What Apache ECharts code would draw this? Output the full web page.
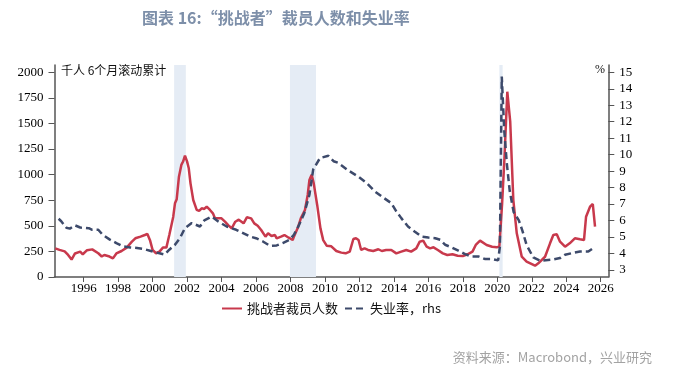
<!DOCTYPE html>
<html>
<head>
<meta charset="utf-8">
<script src="https://cdn.jsdelivr.net/npm/echarts@6/dist/echarts.min.js"></script>
<style>html,body{margin:0;padding:0;background:#fff}#c{width:676px;height:372px}</style>
</head>
<body>
<div id="c"></div>
<script>
// ---- data ----
const xTickYears = [1996,1998,2000,2002,2004,2006,2008,2010,2012,2014,2016,2018,2020,2022,2024,2026];
const leftTicks = [0,250,500,750,1000,1250,1500,1750,2000];
const rightTicks = [3,4,5,6,7,8,9,10,11,12,13,14,15];
const recessions = [[2001.25,2001.93],[2007.97,2009.48],[2020.12,2020.31]];

const layoffYears = [1994.35,1994.6,1994.9,1995.1,1995.3,1995.5,1995.8,1995.95,1996.2,1996.5,1996.85,1997.05,1997.2,1997.5,1997.7,1997.9,1998.2,1998.5,1998.8,1999.0,1999.3,1999.55,1999.7,1999.85,2000.0,2000.2,2000.4,2000.6,2000.8,2000.97,2001.2,2001.3,2001.4,2001.53,2001.67,2001.77,2001.88,2002.0,2002.1,2002.2,2002.36,2002.56,2002.7,2002.85,2003.0,2003.14,2003.33,2003.5,2003.62,2004.0,2004.2,2004.4,2004.59,2004.8,2005.0,2005.28,2005.47,2005.72,2005.9,2006.1,2006.3,2006.55,2006.7,2006.9,2007.1,2007.2,2007.45,2007.65,2007.9,2008.13,2008.2,2008.45,2008.6,2008.84,2009.0,2009.1,2009.23,2009.35,2009.55,2009.74,2009.9,2010.1,2010.37,2010.66,2010.95,2011.2,2011.44,2011.65,2011.8,2011.95,2012.1,2012.3,2012.5,2012.8,2013.1,2013.3,2013.55,2013.85,2014.14,2014.43,2014.72,2015.0,2015.3,2015.5,2015.7,2015.9,2016.1,2016.3,2016.55,2016.84,2017.1,2017.4,2017.7,2018.0,2018.27,2018.56,2018.75,2019.0,2019.1,2019.38,2019.7,2019.97,2020.12,2020.28,2020.41,2020.58,2020.75,2020.93,2021.13,2021.42,2021.7,2022.19,2022.38,2022.77,2023.06,2023.25,2023.45,2023.64,2023.93,2024.2,2024.5,2024.8,2025.03,2025.15,2025.38,2025.54,2025.67];
const layoffValues = [280,265,250,215,170,230,248,222,262,270,232,200,215,200,182,230,254,287,345,378,395,410,420,360,265,232,248,287,287,410,589,720,760,980,1095,1128,1185,1130,1062,915,752,655,645,671,665,688,655,622,573,573,541,505,476,540,560,524,583,573,524,501,459,394,427,400,410,378,394,410,384,361,394,491,573,655,801,948,998,915,704,475,360,306,300,254,238,231,248,371,378,361,264,280,264,254,271,254,264,264,231,248,264,248,280,345,355,296,280,290,264,231,215,222,208,205,222,248,313,355,345,313,296,290,300,720,1143,1810,1517,752,427,198,150,110,134,198,329,410,417,345,296,329,378,368,361,589,687,713,491];

const unempYears = [1994.55,1994.7,1995.0,1995.2,1995.5,1995.8,1996.3,1996.5,1996.85,1997.1,1997.5,1997.9,1998.3,1998.7,1999.1,1999.5,1999.85,2000.15,2000.4,2000.7,2000.97,2001.3,2001.59,2001.88,2002.27,2002.75,2003.0,2003.43,2003.81,2004.3,2004.85,2005.25,2005.65,2006.0,2006.4,2006.8,2007.2,2007.55,2007.95,2008.2,2008.5,2008.8,2009.1,2009.32,2009.71,2010.2,2010.5,2010.77,2011.35,2011.93,2012.42,2012.9,2013.3,2013.85,2014.14,2014.43,2014.82,2015.2,2015.6,2016.0,2016.4,2016.7,2016.97,2017.35,2017.74,2018.13,2018.5,2018.9,2019.3,2019.7,2020.05,2020.15,2020.26,2020.4,2020.55,2020.72,2020.95,2021.25,2021.45,2021.7,2022.09,2022.48,2023.16,2023.64,2023.93,2024.32,2024.8,2025.28,2025.57];
const unempValues = [6.1,5.95,5.55,5.5,5.7,5.57,5.53,5.43,5.43,5.13,4.85,4.62,4.42,4.36,4.32,4.26,4.16,4.06,4.0,3.92,4.22,4.52,4.93,5.53,5.84,5.63,6.0,6.24,5.94,5.63,5.43,5.23,5.02,4.92,4.72,4.46,4.48,4.62,4.82,5.13,5.73,6.44,7.56,9.1,9.79,9.93,9.6,9.5,9.04,8.67,8.27,7.76,7.45,7.05,6.55,6.14,5.63,5.33,5.02,4.96,4.92,4.82,4.52,4.36,4.16,3.95,3.81,3.81,3.65,3.65,3.57,4.4,14.75,11.5,9.5,7.8,6.5,6.0,5.4,4.5,3.75,3.55,3.61,3.71,3.91,4.01,4.11,4.11,4.32];

// ---- build ----
const layoffData = layoffYears.map((y,i)=>[y, layoffValues[i]]);
const unempData = unempYears.map((y,i)=>[y, unempValues[i]]);
const serif = '"Liberation Serif","Times New Roman",serif';
const cjk = '"Noto Sans CJK SC","Noto Sans",sans-serif';
const axisColor = '#555';

const chart = echarts.init(document.getElementById('c'), null, {renderer:'canvas'});
chart.setOption({
  animation: false,
  backgroundColor: '#fff',
  title: {
    text: '图表 16:“挑战者”裁员人数和失业率',
    left: 137, top: 5,
    textStyle: {fontSize: 16, fontWeight: 'bold', color: '#7d8fa9', fontFamily: cjk}
  },
  legend: {
    left: 216, top: 297,
    itemWidth: 20, itemHeight: 10, itemGap: 6,
    itemStyle: {opacity: 0},
    textStyle: {fontSize: 13, color: '#111', fontFamily: cjk},
    data: ['挑战者裁员人数', '失业率，rhs']
  },
  grid: {left: 54.5, right: 67.7, top: 65, bottom: 95, containLabel: false},
  xAxis: {
    type: 'value', min: 1994.31, max: 2026.44,
    axisLine: {show: true, onZero: false, lineStyle: {color: axisColor, width: 1.5}},
    axisTick: {show: true, length: 5, customValues: xTickYears, lineStyle: {color: axisColor}},
    axisLabel: {customValues: xTickYears, margin: 5, fontSize: 13, color: '#000', fontFamily: serif,
      formatter: v => String(Math.round(v))},
    splitLine: {show: false}
  },
  yAxis: [
    {
      type: 'value', min: 0, max: 2071, position: 'left',
      axisLine: {show: true, lineStyle: {color: axisColor, width: 1.5}},
      axisTick: {show: true, length: 6, customValues: leftTicks, lineStyle: {color: axisColor}},
      axisLabel: {customValues: leftTicks, margin: 11, fontSize: 13, color: '#000', fontFamily: serif,
        formatter: v => String(Math.round(v))},
      splitLine: {show: false}
    },
    {
      type: 'value', min: 2.56, max: 15.45, position: 'right',
      axisLine: {show: true, lineStyle: {color: axisColor, width: 1.5}},
      axisTick: {show: true, length: 6, customValues: rightTicks, lineStyle: {color: axisColor}},
      axisLabel: {customValues: rightTicks, margin: 11, fontSize: 13, color: '#000', fontFamily: serif,
        formatter: v => String(Math.round(v))},
      splitLine: {show: false}
    }
  ],
  graphic: [
    {type: 'text', left: 61, top: 64, style: {text: '千人 6个月滚动累计', fill: '#111', font: '12px ' + cjk}},
    {type: 'text', left: 595, top: 64, style: {text: '%', fill: '#111', font: '12px ' + serif}},
    {type: 'text', right: 24, top: 351, style: {text: '资料来源：Macrobond，兴业研究', fill: '#a3a3a3', font: '13px ' + cjk}}
  ],
  series: [
    {
      name: '挑战者裁员人数', type: 'line', yAxisIndex: 0, data: layoffData,
      symbol: 'none', z: 3,
      lineStyle: {color: '#c8394c', width: 2.5},
      itemStyle: {color: '#c8394c'},
      markArea: {
        silent: true,
        itemStyle: {color: '#e5ecf5'},
        data: recessions.map(r => [{xAxis: r[0]}, {xAxis: r[1]}])
      }
    },
    {
      name: '失业率，rhs', type: 'line', yAxisIndex: 1, data: unempData,
      symbol: 'none', z: 4,
      lineStyle: {color: '#3d4a6b', width: 2.5, type: [7, 4]},
      itemStyle: {color: '#3d4a6b'}
    }
  ]
});
</script>
</body>
</html>
